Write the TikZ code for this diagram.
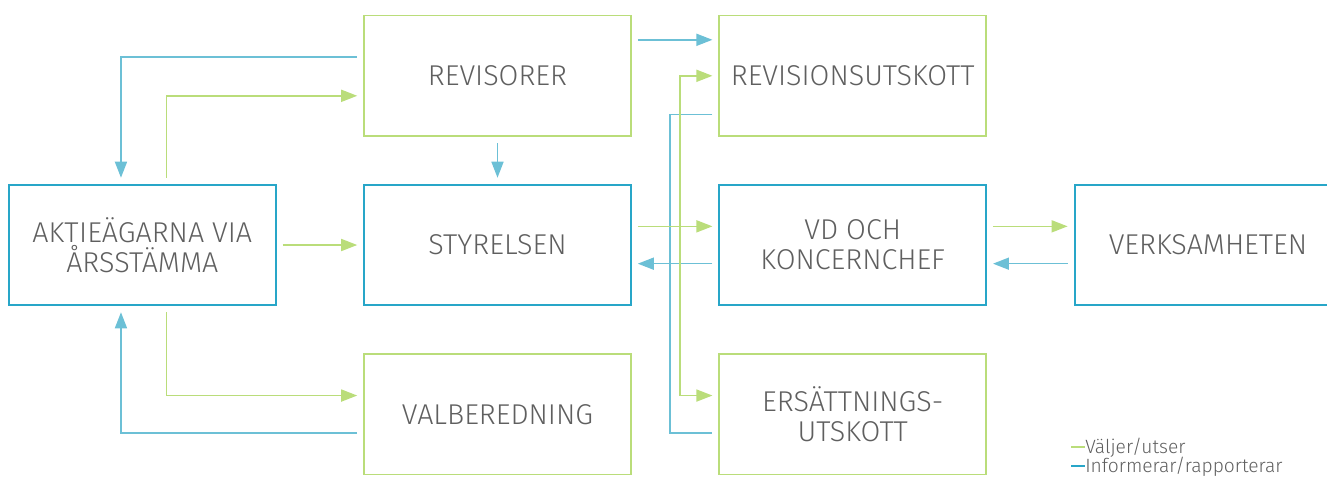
\documentclass[tikz,border=0pt]{standalone}
\usepackage{fontspec}
\setmainfont{Fira Sans Light}[Ligatures={NoCommon},Contextuals={NoAlternate}]
\usetikzlibrary{arrows.meta,positioning}
\definecolor{valgreen}{RGB}{186,221,122}
\definecolor{boxblue}{RGB}{40,166,200}
\definecolor{lineblue}{RGB}{108,192,214}
\definecolor{textgray}{RGB}{95,95,95}
\tikzstyle{bluebox}=[rectangle,draw=boxblue,line width=1.4pt,minimum width=200pt,
minimum height=90.5pt,inner sep=3pt,align=center,text=textgray,font=\fontsize{21.5}{22.5}\selectfont]
\tikzstyle{greenbox}=[bluebox,draw=valgreen]
\tikzstyle{elects}=[draw=valgreen,line width=1.2pt,shorten <=4.5pt,shorten >=4.5pt]
\tikzstyle{reports}=[elects,draw=lineblue]
\tikzstyle{legend}=[anchor=west,inner sep=0pt,text=textgray,font=\fontsize{14.4}{15}\selectfont]

\begin{document}
\begin{tikzpicture}[x=0.75pt,y=-0.75pt,>={Triangle[length=12pt,width=9pt]},node distance=35pt and 65pt]
    \useasboundingbox (0,0) rectangle (1327,476);
    \node[bluebox] (styrelsen) at (497.5,245) {STYRELSEN};
    \node[greenbox] (revisorer) [above=of styrelsen] {REVISORER};
    \node[greenbox] (valberedning) [below=of styrelsen] {VALBEREDNING};
    \node[bluebox] (aktieagare) [left=of styrelsen] {AKT\kern0.5ptIEÄGARNA VIA\\ÅRSSTÄMMA};
    \node[bluebox] (vd) [right=of styrelsen] {VD OCH\\KONCERNCHEF};
    \node[greenbox] (revutskott) [above=of vd] {REVISIONSUTSKOTT};
    \node[greenbox] (ersutskott) [below=of vd] {ERSÄTTNINGS-\\UTSKOTT};
    \node[bluebox] (verksamhet) [right=of vd] {VERKSAMHETEN};

    \coordinate (gsplit) at ([xshift=36pt,yshift=14pt]styrelsen.east);
    \coordinate (bsplit) at ([xshift=28.5pt]styrelsen.east);

    \draw[reports,->] ([yshift=14pt]revisorer.west) -| ([xshift=-16pt]aktieagare.north);
    \draw[elects,->] ([xshift=18pt]aktieagare.north) |- ([yshift=-15pt]revisorer.west);
    \draw[reports,->] (revisorer) -- (styrelsen);
    \draw[elects,->] (aktieagare) -- (styrelsen);
    \draw[elects,->] ([xshift=18pt]aktieagare.south) |- ([yshift=14pt]valberedning.west);
    \draw[reports,->] ([yshift=-14pt]valberedning.west) -| ([xshift=-16pt]aktieagare.south);
    \draw[reports,->] ([yshift=27pt]revisorer.east) -- ([yshift=27pt]revutskott.west);
    \draw[reports] ([yshift=-29pt]revutskott.west) -| (bsplit) |- ([yshift=-14pt]ersutskott.west);
    \draw[elects,->] ([yshift=14pt]styrelsen.east) -- ([yshift=14pt]vd.west);
    \draw[reports,->] ([yshift=-14pt]vd.west) -- ([yshift=-14pt]styrelsen.east);
    \draw[elects,->,shorten <=0pt] (gsplit) |- (revutskott.west);
    \draw[elects,->,shorten <=0pt] (gsplit) |- ([yshift=14pt]ersutskott.west);
    \draw[elects,->] ([yshift=14pt]vd.east) -- ([yshift=14pt]verksamhet.west);
    \draw[reports,->] ([yshift=-14pt]verksamhet.west) -- ([yshift=-14pt]vd.east);

    \node[legend] (legval) at (1071,448) {{\color{valgreen}\rule[0.3em]{10.5pt}{1.2pt}}Väljer/utser};
    \node[legend] (leginfo) at (1071,467) {{\color{boxblue}\rule[0.3em]{10.5pt}{1.2pt}}Informerar/rapporterar};
\end{tikzpicture}
\end{document}
